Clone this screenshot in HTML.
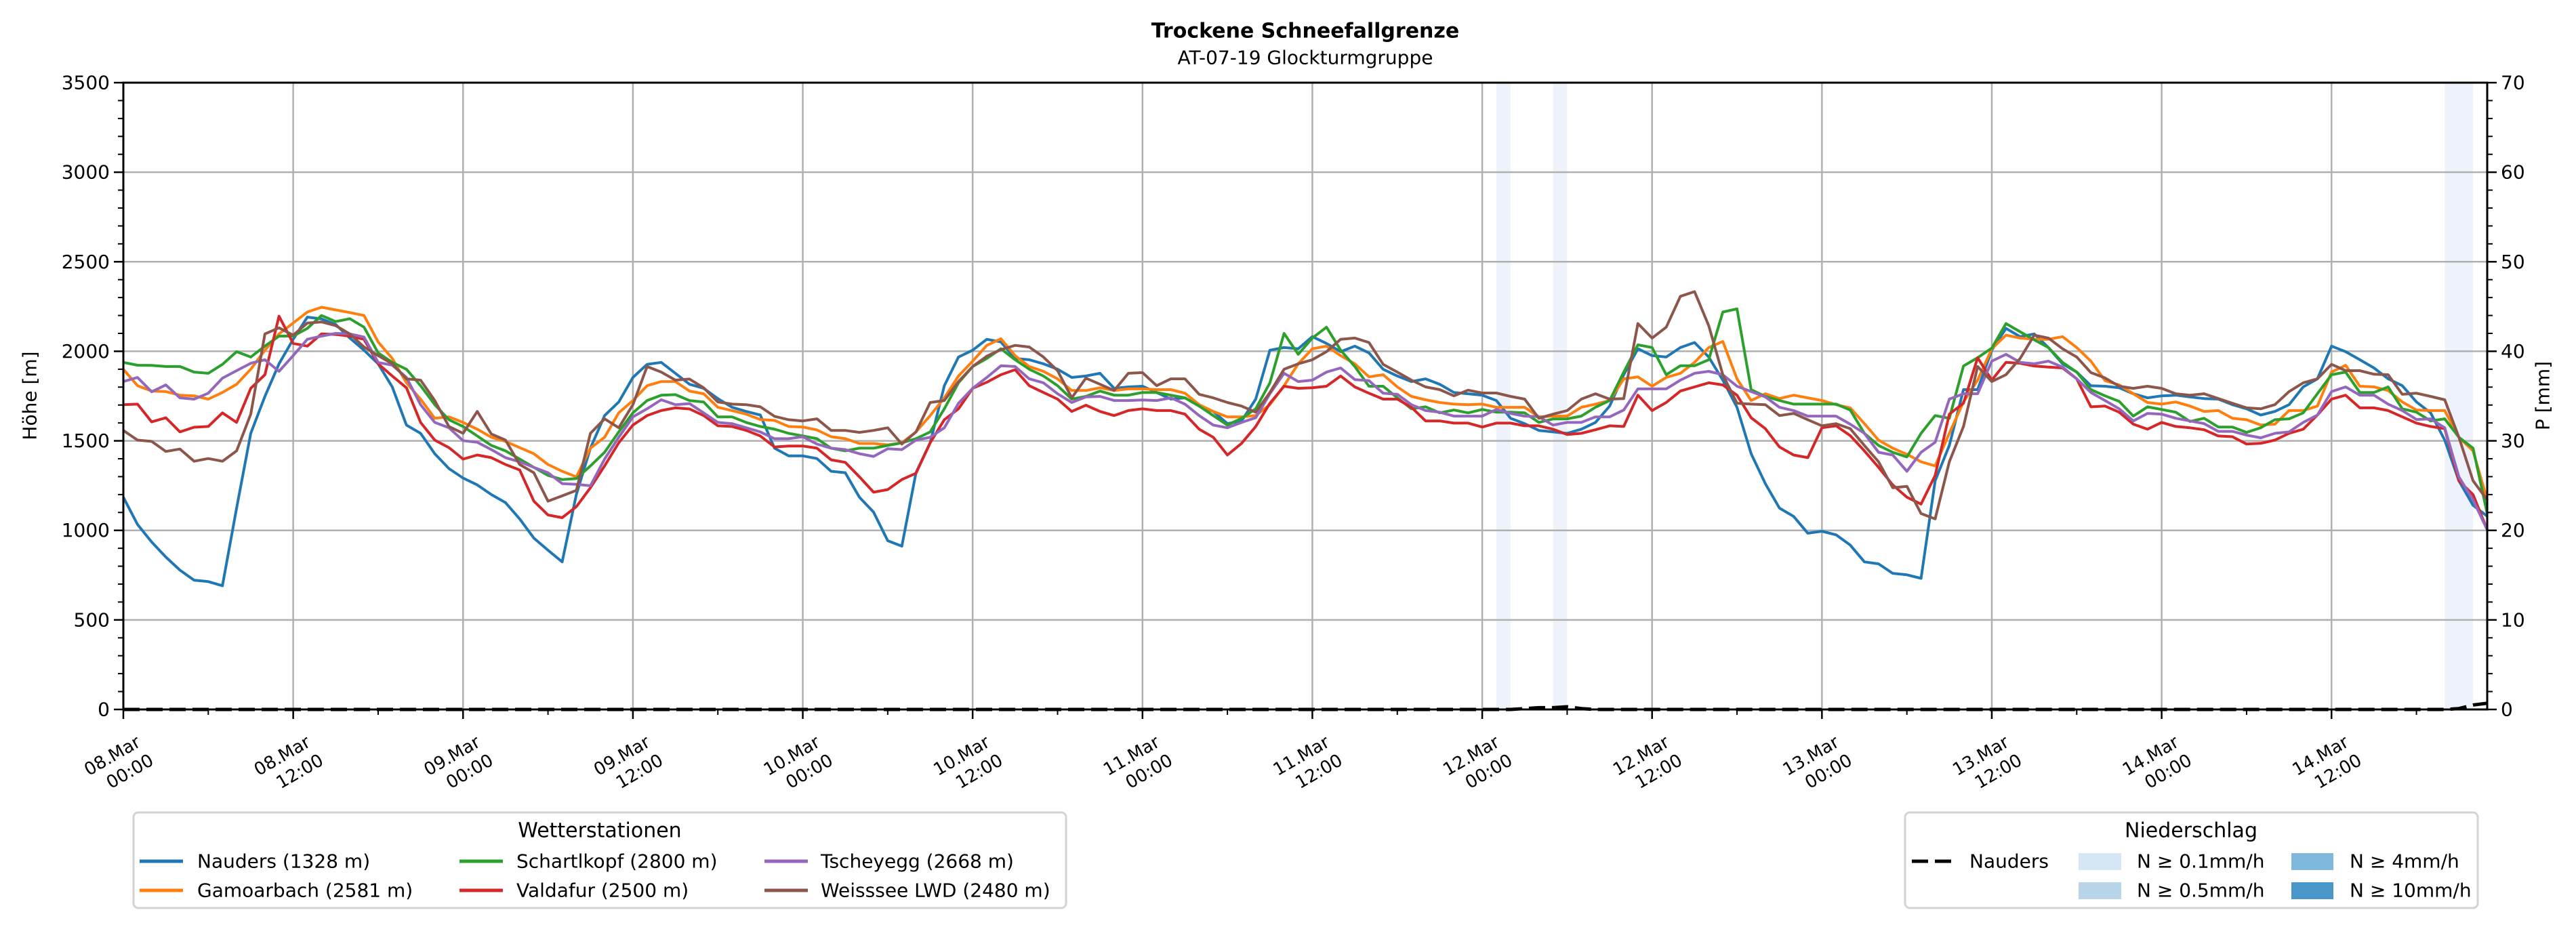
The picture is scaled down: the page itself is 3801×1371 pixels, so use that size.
<!DOCTYPE html>
<html><head><meta charset="utf-8">
<style>
html,body{margin:0;padding:0;background:#fff;}
svg{display:block;font-family:"DejaVu Sans","Liberation Sans",sans-serif;}
</style></head>
<body>
<svg id="chart" width="3801" height="1371" viewBox="0 0 3801 1371" xmlns="http://www.w3.org/2000/svg">
<rect width="3801" height="1371" fill="#fff"/>
<text x="1926" y="46" text-anchor="middle" dominant-baseline="central" font-size="30" font-weight="bold">Trockene Schneefallgrenze</text>
<text x="1926" y="85" text-anchor="middle" dominant-baseline="central" font-size="28">AT-07-19 Glockturmgruppe</text>
<g id="bands"></g>
<g id="grid"></g>
<g id="series"></g>
<g id="axes"></g>
<text transform="translate(44,584) rotate(-90)" text-anchor="middle" dominant-baseline="central" font-size="28">Höhe [m]</text>
<text transform="translate(3752,584) rotate(-90)" text-anchor="middle" dominant-baseline="central" font-size="28">P [mm]</text>

<g>
<rect x="197" y="1199" width="1376" height="141" rx="7" fill="#fff" stroke="#d3d3d3" stroke-width="3"/>
<text x="885" y="1226" text-anchor="middle" dominant-baseline="central" font-size="30">Wetterstationen</text>
<g><line x1="206" y1="1271" x2="270" y2="1271" stroke="#1f77b4" stroke-width="5"/><text x="291" y="1271" dominant-baseline="central" font-size="28">Nauders (1328 m)</text></g>
<g><line x1="206" y1="1314" x2="270" y2="1314" stroke="#ff7f0e" stroke-width="5"/><text x="291" y="1314" dominant-baseline="central" font-size="28">Gamoarbach (2581 m)</text></g>
<g><line x1="678" y1="1271" x2="742" y2="1271" stroke="#2ca02c" stroke-width="5"/><text x="762" y="1271" dominant-baseline="central" font-size="28">Schartlkopf (2800 m)</text></g>
<g><line x1="678" y1="1314" x2="742" y2="1314" stroke="#d62728" stroke-width="5"/><text x="762" y="1314" dominant-baseline="central" font-size="28">Valdafur (2500 m)</text></g>
<g><line x1="1128" y1="1271" x2="1192" y2="1271" stroke="#9467bd" stroke-width="5"/><text x="1211" y="1271" dominant-baseline="central" font-size="28">Tscheyegg (2668 m)</text></g>
<g><line x1="1128" y1="1314" x2="1192" y2="1314" stroke="#8c564b" stroke-width="5"/><text x="1211" y="1314" dominant-baseline="central" font-size="28">Weisssee LWD (2480 m)</text></g>
</g>

<g>
<rect x="2811" y="1199" width="845" height="141" rx="7" fill="#fff" stroke="#d3d3d3" stroke-width="3"/>
<text x="3233" y="1226" text-anchor="middle" dominant-baseline="central" font-size="30">Niederschlag</text>
<g><line x1="2821" y1="1271" x2="2879" y2="1271" stroke="#000" stroke-width="5" stroke-dasharray="24,10"/><text x="2906" y="1271" dominant-baseline="central" font-size="28">Nauders</text></g>
<g><rect x="3067" y="1259" width="63" height="25" fill="#d6e6f4"/><text x="3153" y="1271" dominant-baseline="central" font-size="28">N ≥ 0.1mm/h</text></g>
<g><rect x="3067" y="1302" width="63" height="25" fill="#b8d5ea"/><text x="3153" y="1314" dominant-baseline="central" font-size="28">N ≥ 0.5mm/h</text></g>
<g><rect x="3381" y="1259" width="62" height="25" fill="#7fb8da"/><text x="3467" y="1271" dominant-baseline="central" font-size="28">N ≥ 4mm/h</text></g>
<g><rect x="3381" y="1302" width="62" height="25" fill="#4a98c9"/><text x="3467" y="1314" dominant-baseline="central" font-size="28">N ≥ 10mm/h</text></g>
</g>
</svg>
<script>
// ---- data ----
const nauders = [1185,1033,935,851,778,722,714,691,1124,1542,1748,1930,2067,2191,2181,2150,2074,2006,1930,1801,1588,1542,1428,1345,1292,1254,1200,1155,1064,957,889,824,1200,1459,1641,1717,1854,1927,1938,1877,1816,1793,1736,
1687,1664,1644,1459,1416,1416,1401,1330,1322,1185,1102,942,912,1322,1489,1808,1968,2006,2067,2052,1960,1953,1930,1900,1854,1862,1877,1793,1801,1805,1770,1733,1740,1694,1664,1596,1611,1733,2006,2021,2014,
2082,2044,1998,2029,1991,1900,1862,1831,1846,1816,1770,1763,1755,1725,1626,1596,1558,1550,1542,1565,1603,1694,1869,2014,1976,1968,2021,2049,1968,1839,1687,1428,1261,1124,1078,984,995,975,918,824,813,760,
752,732,1277,1474,1786,1786,2006,2128,2082,2097,2021,1930,1884,1808,1805,1796,1763,1740,1751,1755,1745,1736,1733,1702,1679,1644,1664,1702,1801,1846,2029,1998,1953,1907,1846,1808,1717,1656,1504,1277,1140,1079];
const gamoarbach = [1900,1808,1778,1775,1755,1751,1733,1770,1816,1900,2006,2097,2158,2219,2246,2231,2216,2200,2052,1960,1824,1733,1626,1634,1603,1565,1520,1497,1462,1428,1368,1330,1299,1459,1520,1656,1725,1808,1831,1831,1778,1763,1687,
1669,1649,1619,1614,1580,1577,1561,1523,1512,1485,1485,1477,1489,1550,1641,1740,1862,1945,2033,2070,1976,1915,1888,1846,1781,1781,1796,1781,1790,1790,1786,1786,1766,1702,1664,1634,1634,1641,1702,1808,1930,
2014,2029,1976,1930,1857,1869,1801,1748,1729,1714,1705,1702,1705,1687,1687,1687,1634,1638,1638,1687,1705,1725,1846,1857,1805,1854,1877,1938,2021,2055,1846,1725,1763,1736,1755,1740,1725,1702,1684,1596,1504,1459,
1425,1383,1360,1542,1717,1839,2014,2090,2074,2067,2067,2082,2021,1945,1836,1812,1763,1714,1705,1717,1694,1664,1669,1626,1618,1588,1593,1669,1669,1694,1884,1922,1805,1801,1781,1717,1672,1669,1669,1520,1444,1170];
const schartlkopf = [1938,1922,1921,1915,1915,1884,1877,1927,1998,1968,2029,2085,2085,2128,2200,2166,2182,2135,1991,1938,1900,1808,1702,1618,1580,1527,1474,1444,1398,1352,1307,1284,1289,1360,1436,1550,1656,1725,1755,1758,1725,1717,1634,
1634,1603,1580,1565,1542,1527,1512,1459,1444,1459,1459,1474,1489,1512,1550,1679,1824,1915,1960,2014,1953,1900,1862,1808,1733,1748,1778,1755,1755,1770,1770,1755,1740,1694,1641,1588,1626,1679,1824,2100,1983,
2074,2135,2006,1915,1805,1805,1740,1679,1690,1656,1672,1656,1675,1660,1660,1656,1603,1622,1623,1638,1687,1725,1884,2036,2021,1869,1919,1919,1953,2219,2237,1786,1748,1725,1705,1705,1705,1705,1672,1542,1474,1436,
1410,1542,1641,1626,1918,1964,2018,2155,2109,2064,2021,1938,1884,1786,1751,1720,1638,1690,1675,1660,1608,1626,1577,1577,1547,1573,1618,1623,1656,1763,1869,1884,1770,1770,1801,1679,1660,1611,1623,1520,1459,1094];
const valdafur = [1702,1705,1606,1629,1550,1576,1580,1656,1603,1793,1869,2196,2044,2029,2097,2094,2085,2067,1930,1862,1796,1603,1504,1462,1398,1421,1406,1368,1337,1163,1086,1071,1132,1238,1360,1489,1588,1641,1669,1684,1678,1641,1584,
1580,1558,1527,1466,1471,1471,1459,1394,1380,1299,1213,1228,1284,1319,1489,1618,1679,1793,1827,1869,1897,1808,1770,1733,1664,1699,1664,1641,1669,1679,1669,1669,1649,1565,1520,1421,1486,1580,1710,1805,1793,
1796,1805,1862,1801,1766,1733,1733,1687,1611,1611,1599,1599,1577,1599,1599,1584,1584,1565,1535,1542,1562,1584,1580,1755,1669,1714,1778,1801,1824,1812,1755,1629,1568,1466,1421,1406,1573,1584,1529,1444,1352,1254,
1185,1147,1307,1649,1710,1964,1839,1938,1933,1918,1912,1907,1846,1690,1694,1660,1593,1565,1603,1580,1573,1562,1527,1523,1482,1486,1504,1542,1565,1644,1733,1755,1684,1684,1669,1634,1599,1580,1568,1277,1200,1003];
const tscheyegg = [1831,1854,1774,1812,1740,1733,1766,1850,1892,1933,1953,1888,1976,2067,2085,2100,2097,2079,1938,1922,1854,1702,1603,1573,1501,1492,1451,1406,1383,1352,1322,1261,1257,1249,1398,1520,1634,1679,1729,1702,1708,1656,1603,
1596,1573,1550,1512,1512,1523,1482,1459,1451,1428,1413,1456,1451,1504,1520,1573,1710,1793,1854,1919,1915,1846,1824,1763,1714,1745,1748,1725,1725,1728,1725,1740,1705,1641,1588,1573,1603,1629,1763,1877,1831,
1839,1884,1907,1842,1836,1766,1760,1702,1669,1660,1638,1638,1638,1675,1653,1638,1635,1588,1603,1603,1634,1634,1672,1790,1790,1790,1839,1877,1888,1869,1805,1775,1745,1687,1669,1638,1638,1638,1593,1542,1436,1421,
1330,1436,1492,1733,1763,1763,1945,1983,1938,1930,1945,1912,1846,1770,1725,1679,1611,1653,1649,1626,1611,1596,1553,1553,1532,1517,1542,1550,1603,1644,1775,1801,1755,1755,1705,1669,1619,1623,1573,1299,1170,1003];
const weisssee = [1558,1504,1497,1441,1454,1386,1401,1386,1444,1649,2097,2131,2090,2158,2164,2143,2097,2024,1976,1930,1846,1839,1725,1580,1542,1664,1538,1504,1368,1322,1163,1193,1223,1542,1623,1573,1702,1915,1884,1839,1845,1796,1717,
1705,1702,1690,1637,1618,1611,1623,1558,1558,1547,1558,1573,1482,1550,1714,1725,1831,1915,1973,2009,2033,2024,1968,1892,1740,1850,1816,1781,1877,1881,1808,1846,1846,1760,1740,1714,1694,1660,1770,1900,1930,
1953,1998,2067,2074,2049,1927,1884,1839,1801,1786,1751,1783,1767,1767,1748,1733,1626,1649,1669,1733,1763,1733,1736,2155,2074,2135,2307,2333,2143,1869,1710,1705,1702,1641,1653,1618,1584,1596,1568,1474,1383,1238,
1246,1094,1064,1383,1580,1915,1831,1869,1960,2090,2074,2014,1968,1881,1851,1805,1793,1805,1793,1763,1755,1763,1736,1710,1684,1679,1702,1775,1824,1846,1927,1892,1892,1872,1869,1760,1766,1748,1729,1520,1277,1170];
const precipNauders = [0,0,0,0,0,0,0,0,0,0,0,0,0,0,0,0,0,0,0,0,0,0,0,0,0,0,0,0,0,0,0,0,0,0,0,0,0,0,0,0,0,0,0,0,0,0,0,0,0,0,
0,0,0,0,0,0,0,0,0,0,0,0,0,0,0,0,0,0,0,0,0,0,0,0,0,0,0,0,0,0,0,0,0,0,0,0,0,0,0,0,0,0,0,0,0,0,0,0,0,0.1,
0.2,0.2,0.3,0.1,0,0,0,0,0,0,0,0,0,0,0,0,0,0,0,0,0,0,0,0,0,0,0,0,0,0,0,0,0,0,0,0,0,0,0,0,0,0,0,0,0,0,0,0,0,0,
0,0,0,0,0,0,0,0,0,0,0,0,0,0,0,0.1,0.5,0.7];
const bandHours = [97,101,164,165];
const yTicks = [0,500,1000,1500,2000,2500,3000,3500];
const y2Ticks = [0,10,20,30,40,50,60,70];
const xTickDays = ["08.Mar","08.Mar","09.Mar","09.Mar","10.Mar","10.Mar","11.Mar","11.Mar","12.Mar","12.Mar","13.Mar","13.Mar","14.Mar","14.Mar"];
const xTickTimes = ["00:00","12:00","00:00","12:00","00:00","12:00","00:00","12:00","00:00","12:00","00:00","12:00","00:00","12:00"];

// ---- axes ----
const X0=182, X1=3670, YT=122, YB=1047, HMAX=167, VMAX=3500, PMAX=70;
const xs = h => X0 + (X1-X0)*h/HMAX;
const ys = v => YB - (YB-YT)*v/VMAX;
const ys2 = p => YB - (YB-YT)*p/PMAX;
const NS='http://www.w3.org/2000/svg';
function mk(tag, attrs, parent){const e=document.createElementNS(NS,tag);for(const k in attrs)e.setAttribute(k,attrs[k]);parent.appendChild(e);return e;}

const bands=document.getElementById('bands');
bandHours.forEach(h=>{
  const r=mk('rect',{x:xs(h),y:YT,width:xs(h+1)-xs(h),height:YB-YT,fill:'#eef3fb'},bands);
  
  
});

const grid=document.getElementById('grid');
const axes=document.getElementById('axes');
yTicks.forEach(v=>{
  const g=mk('line',{x1:X0,x2:X1,y1:ys(v),y2:ys(v),stroke:'#b0b0b0','stroke-width':2.5},grid);
  
  
  mk('line',{x1:X0-14,x2:X0,y1:ys(v),y2:ys(v),stroke:'#000','stroke-width':2.5},axes);
  const t=mk('text',{x:X0-20,y:ys(v),'text-anchor':'end','dominant-baseline':'central','font-size':28},axes);
  t.textContent=v;
  
  
});
for(let v=100; v<VMAX; v+=100){ if(v%500) mk('line',{x1:X0-8,x2:X0,y1:ys(v),y2:ys(v),stroke:'#000','stroke-width':2},axes); }
y2Ticks.forEach(p=>{
  mk('line',{x1:X1,x2:X1+14,y1:ys2(p),y2:ys2(p),stroke:'#000','stroke-width':2.5},axes);
  const t=mk('text',{x:X1+20,y:ys2(p),'dominant-baseline':'central','font-size':28},axes);
  t.textContent=p;
  
  
});
for(let p=2;p<PMAX;p+=2){ if(p%10) mk('line',{x1:X1,x2:X1+8,y1:ys2(p),y2:ys2(p),stroke:'#000','stroke-width':2},axes); }
xTickDays.forEach((d,i)=>{
  const h=i*12, x=xs(h);
  const g=mk('line',{x1:x,x2:x,y1:YT,y2:YB,stroke:'#b0b0b0','stroke-width':2.5},grid);
  
  
  mk('line',{x1:x,x2:x,y1:YB,y2:YB+14,stroke:'#000','stroke-width':2.5},axes);
  mk('line',{x1:xs(h+6),x2:xs(h+6),y1:YB,y2:YB+8,stroke:'#000','stroke-width':2},axes);
  const t1=mk('text',{transform:`translate(${x-16},1116) rotate(-30)`,'text-anchor':'middle','dominant-baseline':'central','font-size':26},axes);
  t1.textContent=d;
  
  
  const t2=mk('text',{transform:`translate(${x+10},1139) rotate(-30)`,'text-anchor':'middle','dominant-baseline':'central','font-size':26},axes);
  t2.textContent=xTickTimes[i];
  
  
});

const series=document.getElementById('series');
const defs=[[nauders,'#1f77b4','nauders'],[gamoarbach,'#ff7f0e','gamoarbach'],[schartlkopf,'#2ca02c','schartlkopf'],[valdafur,'#d62728','valdafur'],[tscheyegg,'#9467bd','tscheyegg'],[weisssee,'#8c564b','weisssee']];
defs.forEach(([arr,c,n])=>{
  const pts=arr.map((v,h)=>xs(h).toFixed(1)+','+ys(v).toFixed(1)).join(' ');
  const pl=mk('polyline',{points:pts,fill:'none',stroke:c,'stroke-width':4,'stroke-linejoin':'round'},series);
  
  
});
const ppts=precipNauders.map((p,h)=>xs(h).toFixed(1)+','+ys2(p).toFixed(1)).join(' ');
const pp=mk('polyline',{points:ppts,fill:'none',stroke:'#000','stroke-width':5,'stroke-dasharray':'24,10'},series);



mk('rect',{x:X0,y:YT,width:X1-X0,height:YB-YT,fill:'none',stroke:'#000','stroke-width':3},axes);
</script>
</body></html>
